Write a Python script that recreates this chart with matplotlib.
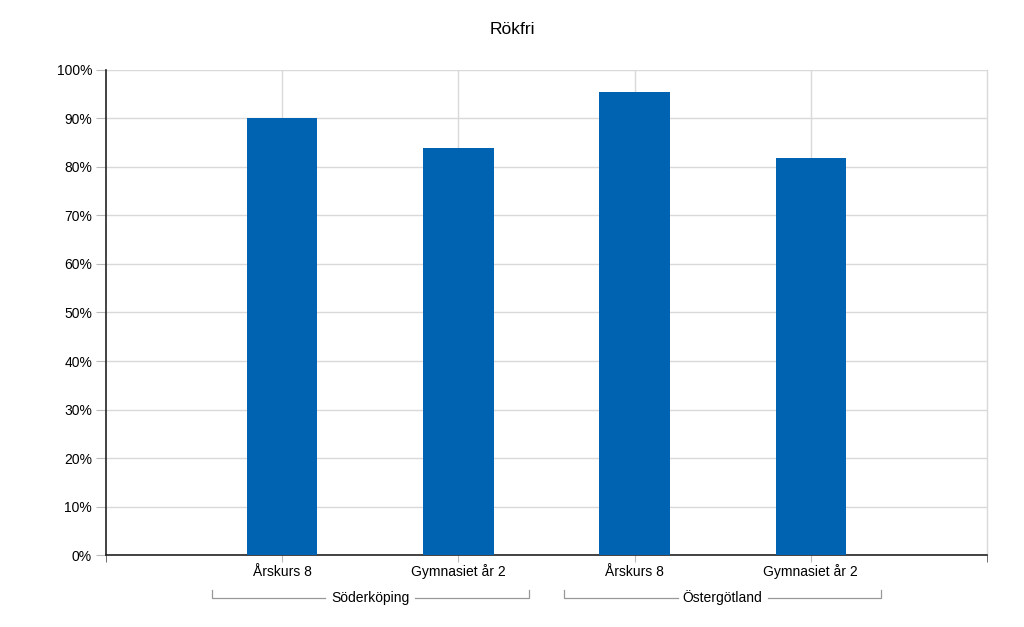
import matplotlib.pyplot as plt
from matplotlib.ticker import FuncFormatter

plt.rcParams['font.family'] = ['Liberation Sans', 'DejaVu Sans']

title = "Rökfri"
categories = ["Årskurs 8", "Gymnasiet år 2", "Årskurs 8", "Gymnasiet år 2"]
groups = ["Söderköping", "Östergötland"]
values = [90.2, 84.0, 95.4, 81.8]

bar_color = "#0063b1"
grid_color = "#d9d9d9"
fs = 10

fig = plt.figure(figsize=(10.24, 6.27), dpi=100)
ax = fig.add_axes([0.1035, 0.1148, 0.8604, 0.7736])

x = list(range(1, len(values) + 1))
ax.bar(x, values, width=0.4, color=bar_color, zorder=3)

ax.set_xlim(0, len(values) + 1)
ax.set_ylim(0, 100)
ax.set_yticks(range(0, 101, 10))
ax.yaxis.set_major_formatter(FuncFormatter(lambda v, p: f"{int(v)}%"))
ax.set_xticks(x)
ax.set_xticklabels([])
ax.set_xticks([0, len(values) + 1], minor=True)

ax.grid(True, color=grid_color, linewidth=1, zorder=0)
ax.axvline(len(values) + 1, color=grid_color, linewidth=1, zorder=0, clip_on=False)

for s in ["top", "right"]:
    ax.spines[s].set_visible(False)
for s in ["left", "bottom"]:
    ax.spines[s].set_color("#222222")
    ax.spines[s].set_linewidth(1.2)

ax.tick_params(axis="y", length=7, color="#bbbbbb", labelsize=fs, pad=3)
ax.tick_params(axis="x", which="major", length=5, color="#bbbbbb")
ax.tick_params(axis="x", which="minor", length=5, color="#555555")

tr = ax.get_xaxis_transform()

# category labels, aligned on baseline
for xi, c in zip(x, categories):
    ax.text(xi, -0.0433, c, transform=tr, ha="center", va="baseline", fontsize=fs)

# group brackets under the category labels
ybr = -0.0887
gap = 0.255
for i, g in enumerate(groups):
    x0 = 2 * i + 0.6
    x1 = 2 * i + 2.4
    xm = (x0 + x1) / 2
    ax.plot([x0, x0, xm - gap], [ybr + 0.017, ybr, ybr], color="#999999",
            linewidth=0.9, transform=tr, clip_on=False)
    ax.plot([xm + gap, x1, x1], [ybr, ybr, ybr + 0.017], color="#999999",
            linewidth=0.9, transform=tr, clip_on=False)
    ax.text(xm, -0.0969, g, transform=tr, ha="center", va="baseline", fontsize=fs)

fig.text(0.5, 1 - 30 / 627, title, ha="center", va="center", fontsize=12.5)

fig.savefig("out.png", dpi=100)
